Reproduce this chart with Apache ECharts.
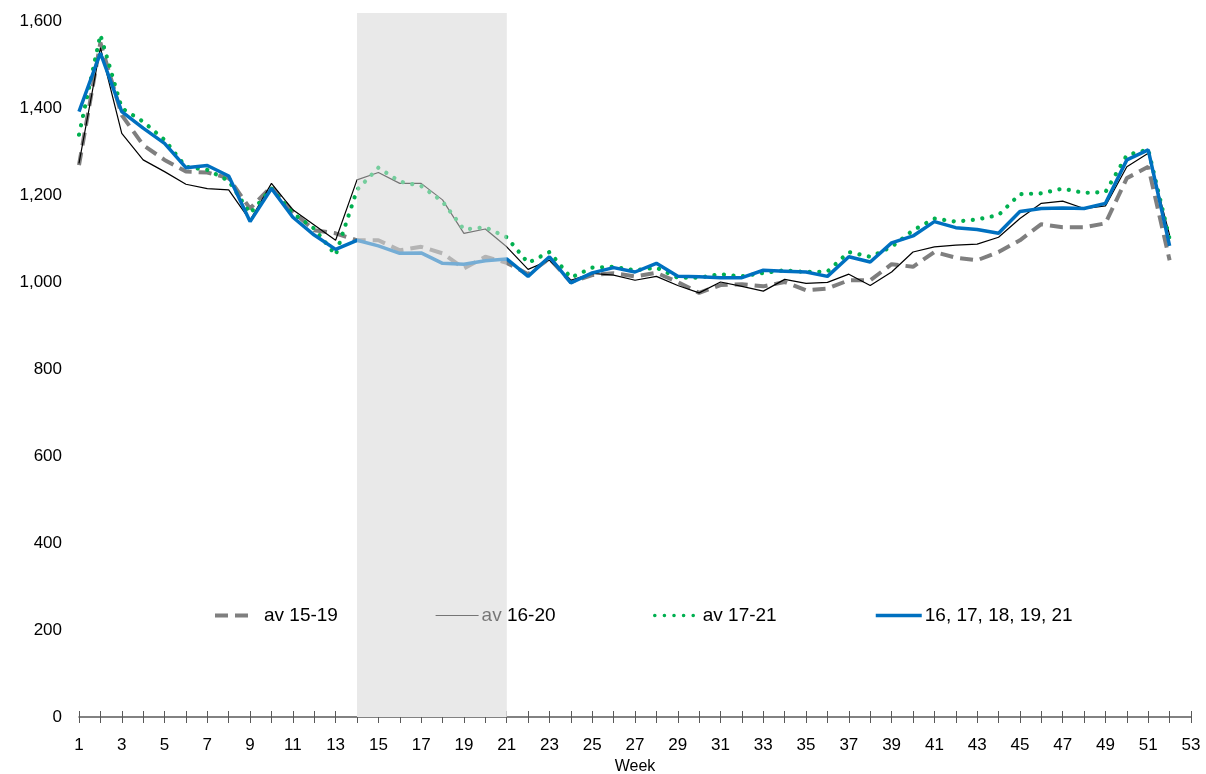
<!DOCTYPE html>
<html>
<head>
<meta charset="utf-8">
<script src="https://cdn.jsdelivr.net/npm/echarts@6/dist/echarts.min.js"></script>
<style>
  html, body { margin: 0; padding: 0; background: #fff; }
  #container1 { width: 1206px; height: 774px; }
</style>
</head>
<body>
<div id="container1"></div>
<script>
var weeks = [];
for (var w = 1; w <= 53; w++) weeks.push(String(w));

var av_15_19 = [1270, 1552, 1385, 1316, 1282, 1255, 1253, 1240, 1170, 1221, 1163, 1120, 1113,
    1097, 1097, 1074, 1082, 1067, 1032, 1059, 1045, 1019, 1055, 1001, 1017, 1021, 1014, 1022,
    1001, 976, 994, 996, 991, 1001, 982, 986, 1005, 1005, 1042, 1036, 1070, 1057, 1051, 1070,
    1097, 1134, 1127, 1127, 1136, 1240, 1266, 1051];
var av_16_20 = [1274, 1540, 1343, 1282, 1255, 1226, 1216, 1213, 1143, 1228, 1167, 1132, 1097,
    1236, 1253, 1228, 1228, 1190, 1113, 1123, 1082, 1030, 1051, 1005, 1021, 1017, 1005, 1014,
    993, 976, 1001, 991, 980, 1007, 998, 1000, 1019, 993, 1024, 1070, 1082, 1086, 1088, 1104,
    1147, 1182, 1187, 1170, 1176, 1266, 1297, 1109];
var av_17_21 = [1340, 1570, 1401, 1370, 1328, 1266, 1259, 1234, 1159, 1216, 1159, 1124, 1063,
    1213, 1264, 1232, 1222, 1186, 1122, 1127, 1104, 1045, 1070, 1011, 1034, 1036, 1028, 1034,
    1011, 1011, 1019, 1014, 1022, 1028, 1024, 1025, 1070, 1059, 1082, 1120, 1147, 1140, 1145,
    1155, 1203, 1205, 1216, 1206, 1208, 1293, 1306, 1100];
var yrs_selected = [1393, 1528, 1393, 1355, 1320, 1264, 1269, 1245, 1140, 1216, 1150, 1109, 1076,
    1097, 1084, 1067, 1068, 1044, 1042, 1050, 1054, 1014, 1059, 999, 1022, 1034, 1024, 1044,
    1014, 1013, 1011, 1011, 1028, 1026, 1024, 1014, 1059, 1047, 1091, 1107, 1140, 1126, 1122,
    1113, 1163, 1170, 1171, 1170, 1182, 1282, 1305, 1084];

var shade_from = '14';
var shade_to = '21';

var font = 'Liberation Sans, Arial, sans-serif';
var axisGray = '#595959';

var chart = echarts.init(document.getElementById('container1'));

function legendItem(name, left, width, textPad, lineWidth) {
    return {
        data: [name],
        left: left,
        top: 606,
        padding: 0,
        itemWidth: width,
        itemHeight: 16,
        itemGap: 0,
        itemStyle: { opacity: 0 },
        lineStyle: { width: lineWidth },
        textStyle: { fontFamily: font, fontSize: 19, color: '#000', padding: [0, 0, 0, textPad] }
    };
}

var options = {
    animation: false,
    textStyle: { fontFamily: font },
    legend: [
        legendItem('av 15-19', 213, 33, 11, 4),
        legendItem('av 16-20', 435, 43, -2, 1.2),
        legendItem('av 17-21', 653, 47, -4, 3.5),
        legendItem('16, 17, 18, 19, 21', 874, 46, -2, 3.5)
    ],
    grid: {
        left: 79,
        right: 15,
        top: 13,
        bottom: 57,
        containLabel: false,
        outerBoundsMode: 'none'
    },
    xAxis: [
        {
            type: 'category',
            data: weeks,
            boundaryGap: false,
            name: 'Week',
            nameLocation: 'middle',
            nameGap: 42,
            nameTextStyle: { fontFamily: font, fontSize: 16, color: '#000' },
            axisLine: { lineStyle: { color: axisGray, width: 1.5 } },
            axisTick: { interval: 0, length: 6, lineStyle: { color: axisGray } },
            axisLabel: { interval: 1, margin: 20, fontFamily: font, fontSize: 17, color: '#000' }
        },
        {
            type: 'category',
            data: weeks,
            boundaryGap: false,
            position: 'bottom',
            axisLine: { show: false },
            axisTick: { inside: true, interval: 0, length: 6, lineStyle: { color: axisGray } },
            axisLabel: { show: false }
        }
    ],
    yAxis: {
        type: 'value',
        min: 0,
        max: 1620,
        interval: 200,
        axisLine: { show: false },
        axisTick: { show: false },
        splitLine: { show: false },
        axisLabel: {
            margin: 17,
            showMaxLabel: false,
            fontFamily: font,
            fontSize: 17,
            color: '#000',
            formatter: function (v) { return v % 200 === 0 ? v.toLocaleString('en-US') : ''; }
        }
    },
    series: [
        {
            name: 'av 15-19',
            type: 'line',
            symbol: 'none',
            color: '#7f7f7f',
            lineStyle: { color: '#7f7f7f', width: 4, type: [13, 7] },
            data: av_15_19,
            markArea: {
                silent: true,
                z: 1,
                itemStyle: { color: '#e9e9e9' },
                data: [[{ xAxis: shade_from, yAxis: 1620 }, { xAxis: shade_to, yAxis: 0 }]]
            }
        },
        {
            name: 'av 16-20',
            type: 'line',
            symbol: 'none',
            color: '#000000',
            lineStyle: { color: '#000000', width: 1.2 },
            data: av_16_20
        },
        {
            name: 'av 17-21',
            type: 'line',
            symbol: 'none',
            color: '#00b050',
            lineStyle: { color: '#00b050', width: 4.2, type: [0.1, 9.5], cap: 'round' },
            data: av_17_21
        },
        {
            name: '16, 17, 18, 19, 21',
            type: 'line',
            symbol: 'none',
            color: '#0070c0',
            lineStyle: { color: '#0070c0', width: 3.5 },
            data: yrs_selected,
            markArea: {
                silent: true,
                z: 20,
                itemStyle: { color: 'rgba(233,233,233,0.5)' },
                data: [[{ xAxis: shade_from, yAxis: 1620 }, { xAxis: shade_to, yAxis: 0 }]]
            }
        }
    ]
};

chart.setOption(options);
</script>
</body>
</html>
